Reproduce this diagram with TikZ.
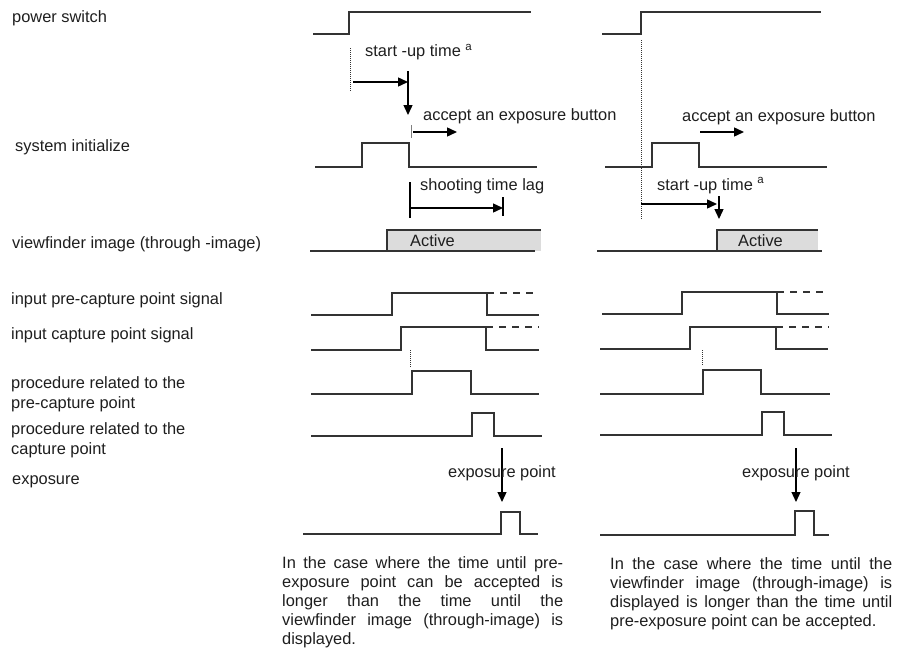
\documentclass[tikz,border=0pt]{standalone}
\usepackage{fontspec}
\setmainfont{Liberation Sans}
\usetikzlibrary{arrows.meta}
\definecolor{linec}{HTML}{333333}
\definecolor{txtc}{HTML}{1E1E1E}
\definecolor{actc}{HTML}{DCDCDC}
\begin{document}
\begin{tikzpicture}[x=1pt,y=-1pt,
  sig/.style={draw=linec, line width=1.4pt, line join=miter},
  dsig/.style={draw=linec, line width=1.4pt, dash pattern=on 7pt off 6pt},
  dotl/.style={draw=linec, line width=1pt, dash pattern=on 1pt off 1pt},
  arr/.style={draw=black, line width=1.4pt, -{Triangle[length=10pt,width=9pt]}},
  plain/.style={draw=black, line width=1.4pt},
  lbl/.style={anchor=base west, inner sep=0pt, text=txtc, font=\fontsize{16.4}{20}\selectfont},
  para/.style={anchor=base west, inner sep=0pt, text=txtc, align=left, font=\fontsize{16.4}{19}\selectfont}]
\useasboundingbox (0,0) rectangle (897,648);

% ---- left labels ----
\node[lbl] (lpower) at (12,22.7) {power switch};
\node[lbl] (lsys) at (15,151.7) {system initialize};
\node[lbl] (lview) at (12,248) {viewfinder image (through -image)};
\node[lbl] (lpre) at (11,304) {input pre-capture point signal};
\node[lbl] (lcap) at (11,339) {input capture point signal};
\node[lbl] (lproc1) at (11,388.3) {procedure related to the};
\node[lbl] (lproc1b) at (11,408.3) {pre-capture point};
\node[lbl] (lproc2) at (11,434) {procedure related to the};
\node[lbl] (lproc2b) at (11,454) {capture point};
\node[lbl] (lexp) at (12,484) {exposure};

% ================= LEFT CASE =================
\draw[sig] (313,34)--(349,34)--(349,12)--(531,12);
\draw[sig] (315,167)--(362,167)--(362,143)--(409,143)--(409,167)--(537,167);
\fill[actc] (387,230) rectangle (541,251);
\draw[sig] (310,251)--(535,251);
\draw[sig] (387,251)--(387,230)--(541,230);
\node[lbl] (lact) at (410,246) {Active};

\draw[sig] (311,315)--(392,315)--(392,293)--(487,293)--(487,315)--(539,315);
\draw[dsig] (487,293)--(539,293);
\draw[sig] (311,350)--(401,350)--(401,327)--(486,327)--(486,350)--(539,350);
\draw[dsig] (486,327)--(539,327);
\draw[dotl] (410,350)--(410,367);
\draw[sig] (311,394)--(412,394)--(412,371)--(471,371)--(471,394)--(539,394);
\draw[sig] (311,436)--(472,436)--(472,413)--(494,413)--(494,436)--(542,436);
\draw[sig] (303,534)--(501,534)--(501,512)--(520,512)--(520,534)--(538,534);

% annotations left
\draw[dotl] (350,48)--(350,92);
\node[lbl] (lstart) at (365,56.7) {start -up time \textsuperscript{a}};
\draw[arr] (353,82)--(408,82);
\draw[arr] (408,71)--(408,115);
\draw[draw=gray, line width=0.8pt] (411,125)--(411,138);
\node[lbl] (lacc) at (423,120.7) {accept an exposure button};
\draw[arr] (413,132)--(457,132);
\node[lbl] (lshoot) at (420,190.7) {shooting time lag};
\draw[plain] (410,182)--(410,218);
\draw[arr] (410,208)--(503,208);
\draw[plain] (503,197)--(503,216);
\draw[plain, line width=1.2pt] (502,448)--(502,490);
\draw[arr, line width=1.2pt] (502,480)--(502,502);
\node[lbl] (lexpp) at (448,477.7) {exposure point};

\node[para] (lnote) at (282,644) {%
\makebox[281pt][s]{In the case where the time until pre-}\\
\makebox[281pt][s]{exposure point can be accepted is}\\
\makebox[281pt][s]{longer than the time until the}\\
\makebox[281pt][s]{viewfinder image (through-image) is}\\
displayed.};

% ================= RIGHT CASE =================
\draw[sig] (602,34)--(641,34)--(641,12)--(821,12);
\draw[sig] (605,167)--(652,167)--(652,143)--(699,143)--(699,167)--(827,167);
\fill[actc] (717,230) rectangle (818,251);
\draw[sig] (597,251)--(822,251);
\draw[sig] (717,251)--(717,230)--(818,230);
\node[lbl] (ract) at (738,246) {Active};

\draw[sig] (602,314)--(682,314)--(682,292)--(777,292)--(777,314)--(829,314);
\draw[dsig] (777,292)--(829,292);
\draw[sig] (600,349)--(690,349)--(690,327)--(776,327)--(776,349)--(828,349);
\draw[dsig] (776,327)--(829,327);
\draw[dotl] (702,350)--(702,366);
\draw[sig] (600,394)--(703,394)--(703,370)--(761,370)--(761,394)--(830,394);
\draw[sig] (600,435)--(762,435)--(762,412)--(784,412)--(784,435)--(832,435);
\draw[sig] (600,535)--(795,535)--(795,511)--(814,511)--(814,535)--(829,535);

% annotations right
\draw[dotl] (641,40)--(641,219);
\node[lbl] (racc) at (682,121.7) {accept an exposure button};
\draw[arr] (700,132)--(744,132);
\node[lbl] (rstart) at (657,190) {start -up time \textsuperscript{a}};
\draw[arr] (641,204)--(717,204);
\draw[arr] (719,196)--(719,219);
\draw[plain, line width=1.2pt] (796,448)--(796,490);
\draw[arr, line width=1.2pt] (796,480)--(796,502);
\node[lbl] (rexpp) at (742,477.7) {exposure point};

\node[para] (rnote) at (610,626) {%
\makebox[282pt][s]{In the case where the time until the}\\
\makebox[282pt][s]{viewfinder image (through-image) is}\\
\makebox[282pt][s]{displayed is longer than the time until}\\
pre-exposure point can be accepted.};
\end{tikzpicture}
\end{document}
